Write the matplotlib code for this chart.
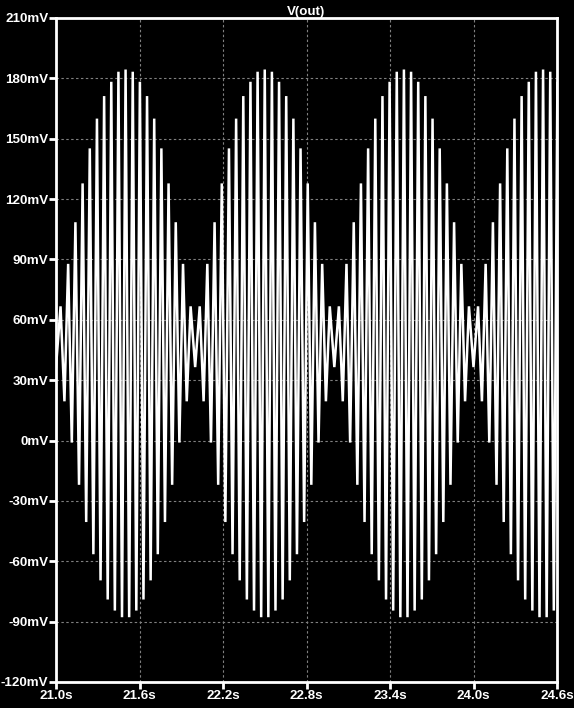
import numpy as np
import matplotlib
matplotlib.use("Agg")
import matplotlib.pyplot as plt

# centre of each beat (where the envelope is widest), seconds
lobe_centres_s = [21.5, 22.5, 23.5, 24.5]

# one beat: time of every peak / trough relative to the beat centre
cycle_offsets_s = [-0.5, -0.4673, -0.4394, -0.4127, -0.3865, -0.3605, -0.3346, -0.3088,
                   -0.2830, -0.2572, -0.2314, -0.2057, -0.1799, -0.1542, -0.1285, -0.1028,
                   -0.0771, -0.0514, -0.0257, 0.0, 0.0257, 0.0514, 0.0771, 0.1028,
                   0.1285, 0.1542, 0.1799, 0.2057, 0.2314, 0.2572, 0.2830, 0.3088,
                   0.3346, 0.3605, 0.3865, 0.4127, 0.4394, 0.4673]
# ...and the voltage at each of them (mV)
cycle_mv = [36.5, 66.7, 19.5, 87.8, -1.0, 108.5, -22.0, 127.8,
            -40.5, 145.2, -56.5, 160.0, -69.5, 171.2, -79.0, 178.3,
            -84.5, 183.3, -87.8, 184.4, -87.8, 183.3, -84.5, 178.3,
            -79.0, 171.2, -69.5, 160.0, -56.5, 145.2, -40.5, 127.8,
            -22.0, 108.5, -1.0, 87.8, 19.5, 66.7]

y_ticks = [-120, -90, -60, -30, 0, 30, 60, 90, 120, 150, 180, 210]
x_ticks = [21.0, 21.6, 22.2, 22.8, 23.4, 24.0, 24.6]

t = np.concatenate([c + np.array(cycle_offsets_s) for c in lobe_centres_s])
v = np.tile(cycle_mv, len(lobe_centres_s))

fig = plt.figure(figsize=(5.74, 7.08), dpi=100, facecolor="black")
ax = fig.add_axes([56/574, 26/708, 501/574, 664/708], facecolor="black")

ax.plot(t, v, color="white", lw=1.8, solid_joinstyle="miter", zorder=3)

ax.set_xlim(21.0, 24.6)
ax.set_ylim(-120, 210)
ax.set_xticks(x_ticks)
ax.set_yticks(y_ticks)
ax.set_xticklabels(["%.1fs" % x for x in x_ticks])
ax.set_yticklabels(["%dmV" % y for y in y_ticks])

font = dict(family="Liberation Sans", weight="bold", size=9.6)
for lab in ax.get_xticklabels() + ax.get_yticklabels():
    lab.set_fontfamily(font["family"])
    lab.set_fontweight(font["weight"])
    lab.set_fontsize(font["size"])
    lab.set_color("white")

ax.tick_params(colors="white", width=2, length=5, pad=0.5, direction="out")
for s in ax.spines.values():
    s.set_color("white")
    s.set_linewidth(2)

ax.grid(True, color="#808080", linestyle=(0, (2.2, 2.2)), linewidth=0.8, zorder=1)
ax.set_axisbelow(True)

ax.set_title("V(out)", color="white", pad=2, **font)

fig.savefig("out.png", dpi=100, facecolor="black")
